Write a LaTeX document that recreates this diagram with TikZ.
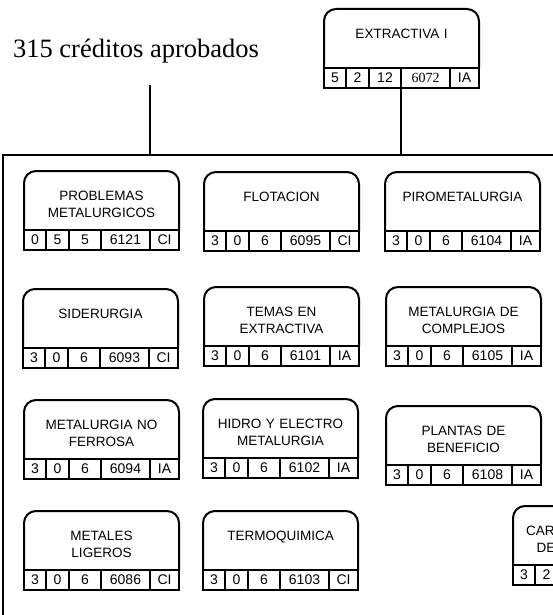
\documentclass[tikz,border=0pt]{standalone}
\usepackage{fontspec}
\setmainfont{Liberation Sans}
\newfontfamily\serifa{Liberation Serif}
\usetikzlibrary{positioning}

% one course box: name, x, y, title, three credit cells, code, type
\newcommand{\curso}[9]{%
	\node (#1) [cuerpo] at (#2,#3) {};
	\draw[borde, rounded corners=12pt] (#1.south west) -- (#1.north west) -- (#1.north east) -- (#1.south east);
	\node (#1-t) [nombre, below=19pt of #1.north] {#4};
	\node (#1-a) [celda, minimum width=22pt, below right=0pt of #1.south west] {#5};
	\node (#1-b) [celda, minimum width=23pt, right=0pt of #1-a] {#6};
	\node (#1-c) [celda, minimum width=32pt, right=0pt of #1-b] {#7};
	\node (#1-d) [celda, minimum width=49pt, right=0pt of #1-c] {#8};
	\node (#1-e) [celda, minimum width=29pt, right=0pt of #1-d] {#9};
}

\begin{document}
\begin{tikzpicture}[
		x=1pt, y=-1pt,
		line width=2pt,
		borde/.style={line width=2pt},
		cuerpo/.style={minimum width=155pt, minimum height=59pt, inner sep=0pt, outer sep=0pt, anchor=north west},
		nombre/.style={inner sep=0pt, text width=152pt, align=center, font=\fontsize{13.5}{17}\selectfont},
		celda/.style={draw, line width=2pt, minimum height=20pt, inner sep=0pt, outer sep=0pt, font=\fontsize{14}{16}\selectfont},
	]
	\path[use as bounding box, clip] (0,0) rectangle (553,615);

	\node (lbl) [anchor=base, font=\serifa\fontsize{26.5}{30}\selectfont] at (136,58) {315 créditos aprobados};
	\coordinate (pie) at (150,85);

	\node (marco) [draw, anchor=north west, minimum width=700pt, minimum height=600pt, outer sep=0pt] at (3,155) {};

	\curso{ext}{324}{9}{EXTRACTIVA I}{5}{2}{12}{\serifa 6072}{IA}

	\curso{prob}{24}{171}{PROBLEMAS\\METALURGICOS}{0}{5}{5}{6121}{CI}
	\curso{flot}{204}{172}{FLOTACION}{3}{0}{6}{6095}{CI}
	\curso{piro}{385}{172}{PIROMETALURGIA}{3}{0}{6}{6104}{IA}

	\curso{side}{23}{289}{SIDERURGIA}{3}{0}{6}{6093}{CI}
	\curso{temas}{204}{287}{TEMAS EN\\EXTRACTIVA}{3}{0}{6}{6101}{IA}
	\curso{compl}{386}{287}{METALURGIA DE\\COMPLEJOS}{3}{0}{6}{6105}{IA}

	\curso{ferr}{24}{400}{METALURGIA NO\\FERROSA}{3}{0}{6}{6094}{IA}
	\curso{hidro}{203}{399}{HIDRO Y ELECTRO\\METALURGIA}{3}{0}{6}{6102}{IA}
	\curso{plant}{386}{406}{PLANTAS DE\\BENEFICIO}{3}{0}{6}{6108}{IA}

	\curso{metal}{24}{511}{METALES\\LIGEROS}{3}{0}{6}{6086}{CI}
	\curso{termo}{203}{511}{TERMOQUIMICA}{3}{0}{6}{6103}{CI}
	\curso{carga}{513}{506}{CARACTERIZACION\\DE MATERIALES}{3}{2}{}{}{}

	\draw (pie) -- (pie |- marco.north);
	\draw (ext-d.south west) -- (ext-d.south west |- marco.north);
\end{tikzpicture}
\end{document}
